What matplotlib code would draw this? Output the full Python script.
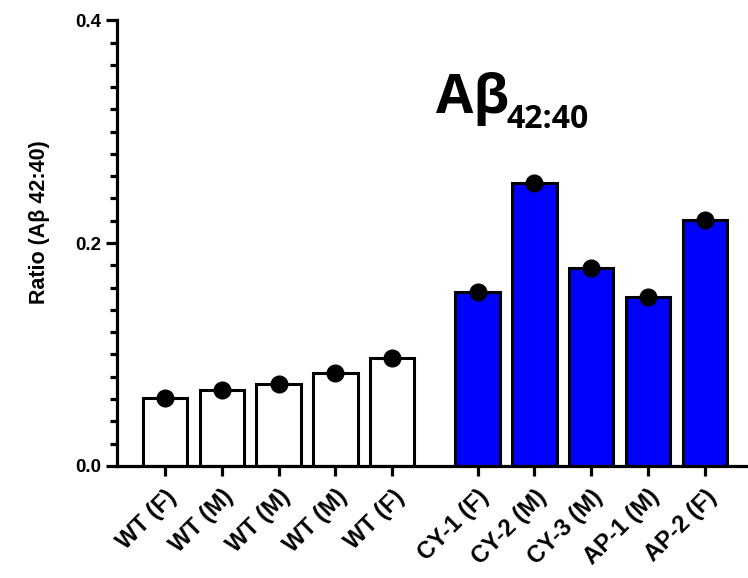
import numpy as np
import matplotlib.pyplot as plt

# DATA
labels = ['WT (F)', 'WT (M)', 'WT (M)', 'WT (M)', 'WT (F)',
          'CY-1 (F)', 'CY-2 (M)', 'CY-3 (M)', 'AP-1 (M)', 'AP-2 (F)']
ratios = [0.061, 0.068, 0.0735, 0.083, 0.097,
          0.156, 0.254, 0.178, 0.152, 0.221]
groups = ['WT'] * 5 + ['mut'] * 5

# bar positions: gap between the WT group and the mutant group
x = np.array([0, 1, 2, 3, 4, 5.5, 6.5, 7.5, 8.5, 9.5])
colors = ['white' if g == 'WT' else '#0000FF' for g in groups]

plt.rcParams['font.family'] = ['Liberation Sans', 'DejaVu Sans']

fig = plt.figure(figsize=(7.48, 5.78), dpi=100)
ax = fig.add_axes([0.156, 0.194, 0.844, 0.771])

ax.bar(x, ratios, width=0.78, color=colors, edgecolor='black', linewidth=2.2, zorder=2)
ax.plot(x, ratios, 'o', color='black', markersize=12, zorder=3, clip_on=False)

ax.set_xlim(-0.85, 10.26)
ax.set_ylim(0, 0.4)
ax.set_yticks([0.0, 0.2, 0.4])
ax.set_yticks(np.arange(0, 0.4, 0.02), minor=True)
ax.set_yticklabels(['0.0', '0.2', '0.4'], fontsize=13.5, fontweight='bold')
ax.set_xticks(x)
ax.set_xticklabels(labels, rotation=45, ha='right', rotation_mode='anchor',
                   fontsize=17, fontweight='bold')

for side in ['top', 'right']:
    ax.spines[side].set_visible(False)
for side in ['left', 'bottom']:
    ax.spines[side].set_linewidth(2.3)

ax.tick_params(axis='y', which='major', length=8, width=2.3, pad=3)
ax.tick_params(axis='y', which='minor', length=5, width=2.3)
ax.tick_params(axis='x', length=7, width=2.3, pad=7)

ax.set_ylabel('Ratio (Aβ 42:40)', fontsize=15.5, fontweight='bold')
ax.yaxis.set_label_coords(-0.105, 0.547)

# title inside the axes: A-beta with subscript 42:40
fig.text(436 / 748, 1 - 113 / 578, 'Aβ', fontsize=39, fontweight='bold',
         family=['Open Sans', 'DejaVu Sans'])
fig.text(506 / 748, 1 - 128 / 578, '42:40', fontsize=23, fontweight='bold',
         family=['Open Sans', 'DejaVu Sans'])

fig.savefig('out.png', dpi=100)
